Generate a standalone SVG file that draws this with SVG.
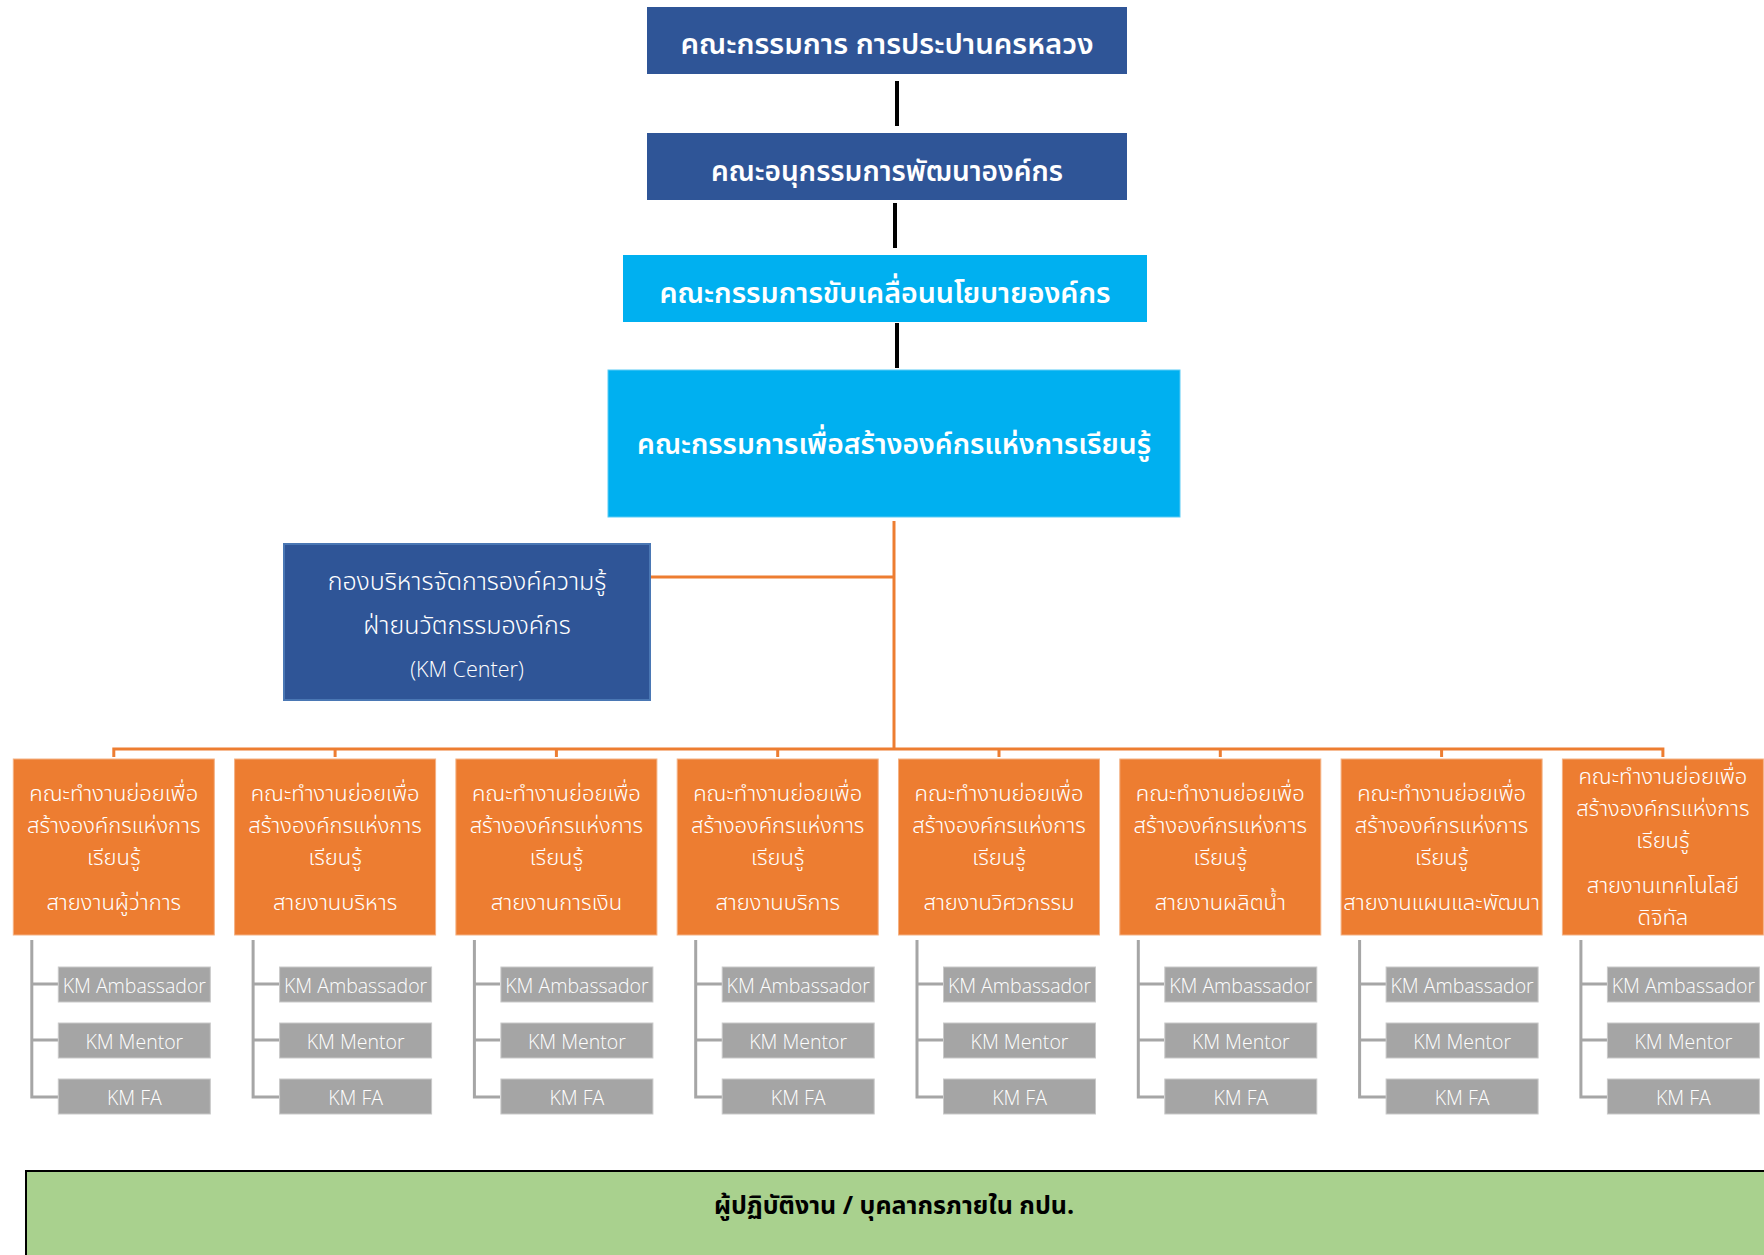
<svg xmlns="http://www.w3.org/2000/svg" width="1764" height="1255" viewBox="0 0 1764 1255">
<style>
.th{font-family:"Noto Sans Thai","Leelawadee UI","Tahoma","Noto Sans","DejaVu Sans",sans-serif;}
.top{fill:#FFFFFF;font-size:29px;font-weight:600;text-anchor:middle;}
.org{fill:#FFFFFF;font-size:22px;font-weight:300;text-anchor:middle;}
.km{fill:#FFFFFF;font-size:25px;font-weight:300;text-anchor:middle;}
.lat{font-family:"Open Sans","Noto Sans",sans-serif;fill:#FFFFFF;font-size:19.5px;font-weight:300;text-anchor:middle;}
.dblue{fill:#2F5597;}
.lblue{fill:#00B0F0;}
.obox{fill:#ED7D31;stroke:#F4B183;stroke-width:1;}
.gbox{fill:#A5A5A5;stroke:#C9C9C9;stroke-width:1;}
.blk{stroke:#000000;stroke-width:4;fill:none;}
.orl{stroke:#ED7D31;stroke-width:3;fill:none;}
.gry{stroke:#A6A6A6;stroke-width:3;fill:none;}
</style>
<rect width="1764" height="1255" fill="#FFFFFF"/>
<g id="connectors">
  <line class="blk" x1="897" y1="81" x2="897" y2="126"/>
  <line class="blk" x1="895" y1="203" x2="895" y2="248"/>
  <line class="blk" x1="897" y1="323" x2="897" y2="368"/>
  <line class="orl" x1="894" y1="521" x2="894" y2="750"/>
  <line class="orl" x1="650" y1="577" x2="893" y2="577"/>
  <path class="orl" d="M113.8,757 V749 H1662.9 V757 M335.1,749 V757 M556.4,749 V757 M777.7,749 V757 M999,749 V757 M1220.3,749 V757 M1441.6,749 V757"/>
  <g id="brackets">
    <path class="gry" d="M31.8,940 V1097 H58 M31.8,984 H58 M31.8,1040 H58"/>
    <path class="gry" d="M253.1,940 V1097 H279 M253.1,984 H279 M253.1,1040 H279"/>
    <path class="gry" d="M474.4,940 V1097 H500 M474.4,984 H500 M474.4,1040 H500"/>
    <path class="gry" d="M695.7,940 V1097 H722 M695.7,984 H722 M695.7,1040 H722"/>
    <path class="gry" d="M917,940 V1097 H943 M917,984 H943 M917,1040 H943"/>
    <path class="gry" d="M1138.3,940 V1097 H1164 M1138.3,984 H1164 M1138.3,1040 H1164"/>
    <path class="gry" d="M1359.6,940 V1097 H1386 M1359.6,984 H1386 M1359.6,1040 H1386"/>
    <path class="gry" d="M1580.9,940 V1097 H1607 M1580.9,984 H1607 M1580.9,1040 H1607"/>
  </g>
</g>
<g id="board">
  <rect class="dblue" x="647" y="7" width="480" height="67"/>
  <text class="th top" x="887" y="54" textLength="413" lengthAdjust="spacingAndGlyphs">คณะกรรมการ การประปานครหลวง</text>
</g>
<g id="subcommittee">
  <rect class="dblue" x="647" y="133" width="480" height="67"/>
  <text class="th top" x="887" y="181" textLength="352" lengthAdjust="spacingAndGlyphs">คณะอนุกรรมการพัฒนาองค์กร</text>
</g>
<g id="policy">
  <rect class="lblue" x="623" y="255" width="524" height="67"/>
  <text class="th top" x="885" y="303" textLength="451" lengthAdjust="spacingAndGlyphs">คณะกรรมการขับเคลื่อนนโยบายองค์กร</text>
</g>
<g id="lo-committee">
  <rect class="lblue" x="608" y="370" width="572" height="147" stroke="#5BCBF5" stroke-width="1"/>
  <text class="th top" x="894" y="454" textLength="514" lengthAdjust="spacingAndGlyphs">คณะกรรมการเพื่อสร้างองค์กรแห่งการเรียนรู้</text>
</g>
<g id="km-center">
  <rect class="dblue" x="284" y="544" width="366" height="156" stroke="#4A77B4" stroke-width="2"/>
  <text class="th km" x="467" y="590">กองบริหารจัดการองค์ความรู้</text>
  <text class="th km" x="467" y="634">ฝ่ายนวัตกรรมองค์กร</text>
  <text class="lat" x="467" y="677" style="font-size:21.5px">(KM Center)</text>
</g>
<g id="wg-1">
  <rect class="obox" x="13.3" y="759" width="201" height="176"/>
  <text class="th org" x="113.8" y="801">คณะทำงานย่อยเพื่อ</text>
  <text class="th org" x="113.8" y="833">สร้างองค์กรแห่งการ</text>
  <text class="th org" x="113.8" y="865">เรียนรู้</text>
  <text class="th org" x="113.8" y="910">สายงานผู้ว่าการ</text>
</g>
<g id="wg-2">
  <rect class="obox" x="234.6" y="759" width="201" height="176"/>
  <text class="th org" x="335.1" y="801">คณะทำงานย่อยเพื่อ</text>
  <text class="th org" x="335.1" y="833">สร้างองค์กรแห่งการ</text>
  <text class="th org" x="335.1" y="865">เรียนรู้</text>
  <text class="th org" x="335.1" y="910">สายงานบริหาร</text>
</g>
<g id="wg-3">
  <rect class="obox" x="455.9" y="759" width="201" height="176"/>
  <text class="th org" x="556.4" y="801">คณะทำงานย่อยเพื่อ</text>
  <text class="th org" x="556.4" y="833">สร้างองค์กรแห่งการ</text>
  <text class="th org" x="556.4" y="865">เรียนรู้</text>
  <text class="th org" x="556.4" y="910">สายงานการเงิน</text>
</g>
<g id="wg-4">
  <rect class="obox" x="677.2" y="759" width="201" height="176"/>
  <text class="th org" x="777.7" y="801">คณะทำงานย่อยเพื่อ</text>
  <text class="th org" x="777.7" y="833">สร้างองค์กรแห่งการ</text>
  <text class="th org" x="777.7" y="865">เรียนรู้</text>
  <text class="th org" x="777.7" y="910">สายงานบริการ</text>
</g>
<g id="wg-5">
  <rect class="obox" x="898.5" y="759" width="201" height="176"/>
  <text class="th org" x="999" y="801">คณะทำงานย่อยเพื่อ</text>
  <text class="th org" x="999" y="833">สร้างองค์กรแห่งการ</text>
  <text class="th org" x="999" y="865">เรียนรู้</text>
  <text class="th org" x="999" y="910">สายงานวิศวกรรม</text>
</g>
<g id="wg-6">
  <rect class="obox" x="1119.8" y="759" width="201" height="176"/>
  <text class="th org" x="1220.3" y="801">คณะทำงานย่อยเพื่อ</text>
  <text class="th org" x="1220.3" y="833">สร้างองค์กรแห่งการ</text>
  <text class="th org" x="1220.3" y="865">เรียนรู้</text>
  <text class="th org" x="1220.3" y="910">สายงานผลิตน้ำ</text>
</g>
<g id="wg-7">
  <rect class="obox" x="1341.1" y="759" width="201" height="176"/>
  <text class="th org" x="1441.6" y="801">คณะทำงานย่อยเพื่อ</text>
  <text class="th org" x="1441.6" y="833">สร้างองค์กรแห่งการ</text>
  <text class="th org" x="1441.6" y="865">เรียนรู้</text>
  <text class="th org" x="1441.6" y="910">สายงานแผนและพัฒนา</text>
</g>
<g id="wg-8">
  <rect class="obox" x="1562.4" y="759" width="201" height="176"/>
  <text class="th org" x="1662.9" y="784">คณะทำงานย่อยเพื่อ</text>
  <text class="th org" x="1662.9" y="816">สร้างองค์กรแห่งการ</text>
  <text class="th org" x="1662.9" y="848">เรียนรู้</text>
  <text class="th org" x="1662.9" y="893">สายงานเทคโนโลยี</text>
  <text class="th org" x="1662.9" y="925">ดิจิทัล</text>
</g>
<g id="roles-1">
  <rect class="gbox" x="58.3" y="967" width="152" height="35"/><text class="lat" x="134.3" y="993">KM Ambassador</text>
  <rect class="gbox" x="58.3" y="1023" width="152" height="35"/><text class="lat" x="134.3" y="1049">KM Mentor</text>
  <rect class="gbox" x="58.3" y="1079" width="152" height="35"/><text class="lat" x="134.3" y="1105">KM FA</text>
</g>
<g id="roles-2">
  <rect class="gbox" x="279.6" y="967" width="152" height="35"/><text class="lat" x="355.6" y="993">KM Ambassador</text>
  <rect class="gbox" x="279.6" y="1023" width="152" height="35"/><text class="lat" x="355.6" y="1049">KM Mentor</text>
  <rect class="gbox" x="279.6" y="1079" width="152" height="35"/><text class="lat" x="355.6" y="1105">KM FA</text>
</g>
<g id="roles-3">
  <rect class="gbox" x="500.9" y="967" width="152" height="35"/><text class="lat" x="576.9" y="993">KM Ambassador</text>
  <rect class="gbox" x="500.9" y="1023" width="152" height="35"/><text class="lat" x="576.9" y="1049">KM Mentor</text>
  <rect class="gbox" x="500.9" y="1079" width="152" height="35"/><text class="lat" x="576.9" y="1105">KM FA</text>
</g>
<g id="roles-4">
  <rect class="gbox" x="722.2" y="967" width="152" height="35"/><text class="lat" x="798.2" y="993">KM Ambassador</text>
  <rect class="gbox" x="722.2" y="1023" width="152" height="35"/><text class="lat" x="798.2" y="1049">KM Mentor</text>
  <rect class="gbox" x="722.2" y="1079" width="152" height="35"/><text class="lat" x="798.2" y="1105">KM FA</text>
</g>
<g id="roles-5">
  <rect class="gbox" x="943.5" y="967" width="152" height="35"/><text class="lat" x="1019.5" y="993">KM Ambassador</text>
  <rect class="gbox" x="943.5" y="1023" width="152" height="35"/><text class="lat" x="1019.5" y="1049">KM Mentor</text>
  <rect class="gbox" x="943.5" y="1079" width="152" height="35"/><text class="lat" x="1019.5" y="1105">KM FA</text>
</g>
<g id="roles-6">
  <rect class="gbox" x="1164.8" y="967" width="152" height="35"/><text class="lat" x="1240.8" y="993">KM Ambassador</text>
  <rect class="gbox" x="1164.8" y="1023" width="152" height="35"/><text class="lat" x="1240.8" y="1049">KM Mentor</text>
  <rect class="gbox" x="1164.8" y="1079" width="152" height="35"/><text class="lat" x="1240.8" y="1105">KM FA</text>
</g>
<g id="roles-7">
  <rect class="gbox" x="1386.1" y="967" width="152" height="35"/><text class="lat" x="1462.1" y="993">KM Ambassador</text>
  <rect class="gbox" x="1386.1" y="1023" width="152" height="35"/><text class="lat" x="1462.1" y="1049">KM Mentor</text>
  <rect class="gbox" x="1386.1" y="1079" width="152" height="35"/><text class="lat" x="1462.1" y="1105">KM FA</text>
</g>
<g id="roles-8">
  <rect class="gbox" x="1607.4" y="967" width="152" height="35"/><text class="lat" x="1683.4" y="993">KM Ambassador</text>
  <rect class="gbox" x="1607.4" y="1023" width="152" height="35"/><text class="lat" x="1683.4" y="1049">KM Mentor</text>
  <rect class="gbox" x="1607.4" y="1079" width="152" height="35"/><text class="lat" x="1683.4" y="1105">KM FA</text>
</g>
<g id="staff">
  <rect x="26" y="1171" width="1745" height="90" fill="#A9D18E" stroke="#000000" stroke-width="2"/>
  <text class="th" x="894" y="1214" style="fill:#000000;font-size:25px;font-weight:bold;text-anchor:middle">ผู้ปฏิบัติงาน / บุคลากรภายใน กปน.</text>
</g>
</svg>
